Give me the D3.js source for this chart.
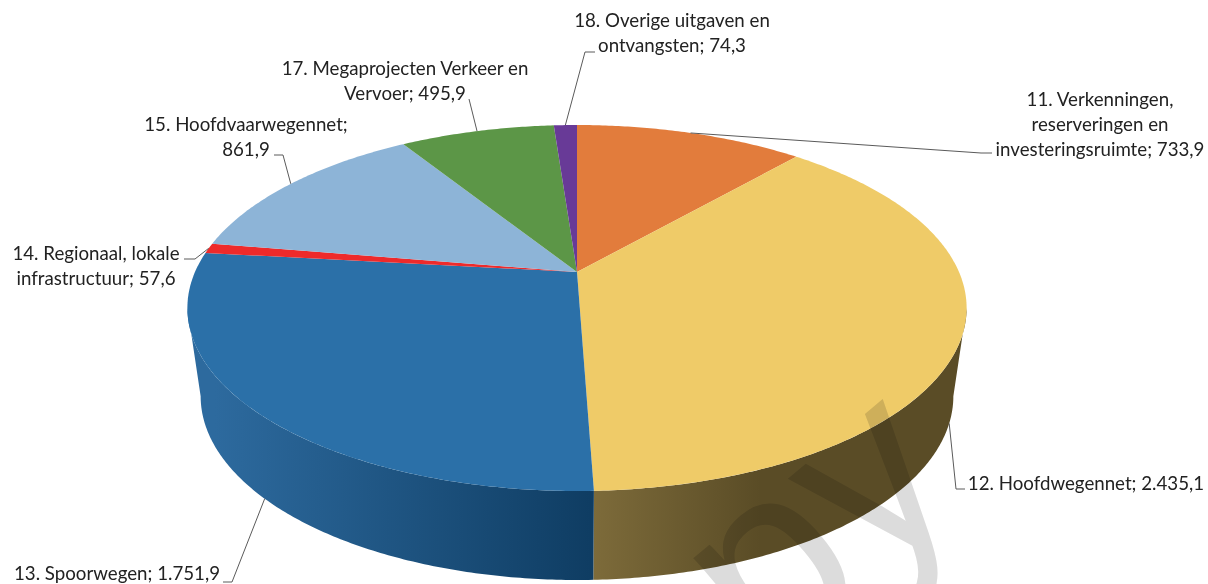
<!DOCTYPE html>
<html>
<head>
<meta charset="utf-8">
<script src="https://cdn.jsdelivr.net/npm/d3@7"></script>
<style>
    html, body { margin: 0; padding: 0; background: #fff; overflow: hidden; }
    svg { display: block; filter: blur(0.4px); }
    text { font-family: Lato, "Open Sans", sans-serif; }
</style>
</head>
<body>
<div id="chart"></div>
<script>
// Values from the picture, clockwise from 12 o'clock
const categories = ["11. Verkenningen, reserveringen en investeringsruimte", "12. Hoofdwegennet", "13. Spoorwegen",
    "14. Regionaal, lokale infrastructuur", "15. Hoofdvaarwegennet", "17. Megaprojecten Verkeer en Vervoer", "18. Overige uitgaven en ontvangsten"];
const values = [733.9, 2435.1, 1751.9, 57.6, 861.9, 495.9, 74.3];
const colors = ["#e27c3c", "#efcb68", "#2b70a8", "#ee2a2b", "#8db4d7", "#5c9647", "#683a97"];
// only these two slices show their side
const wallColors = {
    1: {from: "#7d6b3a", to: "#5a4c26", x1: 593, x2: 760},
    2: {from: "#2d6a9e", to: "#0f3d63", x1: 215, x2: 590}
};
const labelLines = [
    ["11. Verkenningen,", "reserveringen en", "investeringsruimte; 733,9"],
    ["12. Hoofdwegennet; 2.435,1"],
    ["13. Spoorwegen; 1.751,9"],
    ["14. Regionaal, lokale", "infrastructuur; 57,6"],
    ["15. Hoofdvaarwegennet;", "861,9"],
    ["17. Megaprojecten Verkeer en", "Vervoer; 495,9"],
    ["18. Overige uitgaven en", "ontvangsten; 74,3"]
];
// label centre x, first baseline y, then the elbow points of each leader line
const labelPos = [
    {x: 1100, y: 106, elbow: [[981, 153], [992, 153]]},
    {x: 1086, y: 490, elbow: [[956, 489], [965, 489]]},
    {x: 117, y: 580, elbow: [[232, 582], [223, 582]]},
    {x: 96, y: 260, elbow: [[195, 259], [184, 259]]},
    {x: 246, y: 131, elbow: [[283, 155], [274, 155]]},
    {x: 405, y: 75, elbow: [[469, 99]]},
    {x: 672, y: 27, elbow: [[585, 52], [595, 52]]}
];
const frontSlices = [1, 2]; // these leaders start on the lower rim

const width = 1208, height = 584;
const svg = d3.select("#chart").append("svg")
    .attr("width", width)
    .attr("height", height);

// Perspective view of the two rims of the disc
const persp = -0.1967;
const topRim = {cx: 577, cy: 272, a: 382, b: 175.9};
const bottomRim = {cx: 577, cy: 360, a: 369, b: 176.7};

// Angles where the side of the disc turns away from the viewer
const sideStart = Math.acos(persp);
const sideEnd = 2 * Math.PI - sideStart;

function project(rim, angle) {
    let X = Math.sin(angle), Y = -Math.cos(angle);
    let w = 1 + persp * Y;
    return [rim.cx + rim.a * X / w, rim.cy + rim.b * Y / w];
}

function arcPoints(rim, start, end) {
    let n = Math.max(2, Math.ceil((end - start) / 0.01));
    return d3.range(n + 1).map(i => project(rim, start + (end - start) * i / n));
}

const line = d3.line();
const arcs = d3.pie().sort(null).value(d => d)(values);
const walls = arcs.filter(d => wallColors[d.index]);

// Side gradients
const defs = svg.append("defs");
walls.forEach(d => {
    let c = wallColors[d.index];
    let grad = defs.append("linearGradient")
        .attr("id", `wall-${d.index}`)
        .attr("gradientUnits", "userSpaceOnUse")
        .attr("x1", c.x1).attr("x2", c.x2).attr("y1", 0).attr("y2", 0);
    grad.append("stop").attr("offset", 0).attr("stop-color", c.from);
    grad.append("stop").attr("offset", 1).attr("stop-color", c.to);
});

// Sides
svg.append("g").selectAll("path")
    .data(walls)
    .enter()
    .append("path")
    .attr("fill", d => `url(#wall-${d.index})`)
    .attr("d", d => {
        let a0 = Math.max(d.startAngle, sideStart), a1 = Math.min(d.endAngle, sideEnd);
        let upper = arcPoints(topRim, a0, a1);
        let lower = arcPoints(bottomRim, a0, a1).reverse();
        return line(upper.concat(lower)) + "Z";
    });

// Top of the pie
svg.append("g").selectAll("path")
    .data(arcs)
    .enter()
    .append("path")
    .attr("fill", (d, i) => colors[i])
    .attr("d", d => line([[topRim.cx, topRim.cy]].concat(arcPoints(topRim, d.startAngle, d.endAngle))) + "Z");

// Leader lines start at the middle of each slice
svg.append("g").selectAll("path")
    .data(arcs)
    .enter()
    .append("path")
    .attr("fill", "none")
    .attr("stroke", "#5a5a5a")
    .attr("stroke-width", 1)
    .attr("d", (d, i) => {
        let rim = frontSlices.includes(i) ? bottomRim : topRim;
        let start = project(rim, (d.startAngle + d.endAngle) / 2);
        return line([start].concat(labelPos[i].elbow));
    });

// Labels
const labels = svg.append("g")
    .attr("font-size", 18.7)
    .attr("fill", "#222")
    .attr("text-anchor", "middle");

labelLines.forEach((lines, i) => {
    lines.forEach((txt, j) => {
        labels.append("text")
            .attr("x", labelPos[i].x)
            .attr("y", labelPos[i].y + j * 25)
            .text(txt);
    });
});

// Watermark over the chart
svg.append("text")
    .attr("transform", "translate(968,500) rotate(-40)")
    .attr("text-anchor", "end")
    .attr("font-size", 250)
    .style("font-family", "'Liberation Sans', sans-serif")
    .style("mix-blend-mode", "multiply")
    .attr("fill", "#dcdcdc")
    .text("Copy");
</script>
</body>
</html>
